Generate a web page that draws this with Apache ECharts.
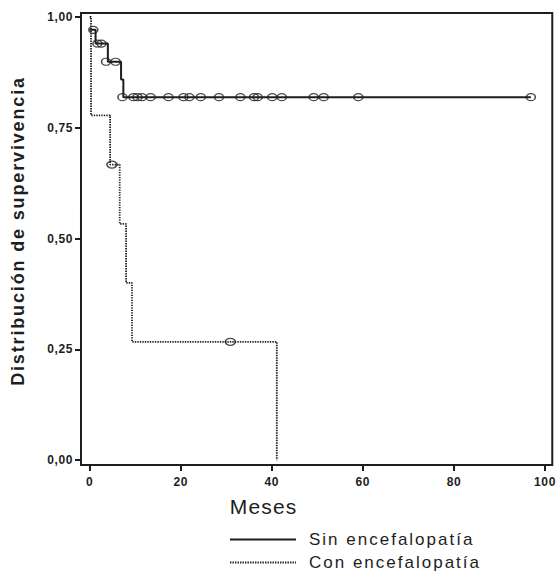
<!DOCTYPE html>
<html>
<head>
<meta charset="utf-8">
<title>Distribución de supervivencia</title>
<script src="https://cdn.jsdelivr.net/npm/echarts@6/dist/echarts.min.js"></script>
<style>
  html, body { margin: 0; padding: 0; background: #fff; }
  #chart { width: 558px; height: 571px; }
  /* tracking for the wide-set lettering (SVG renderer text nodes) */
  #chart svg text[style*="18px"] { letter-spacing: 1.85px; }
  #chart svg text[style*="17px"] { letter-spacing: 2px; }
  #chart svg text[style*="21px"] { letter-spacing: 1.2px; }
  #chart svg text[style*="12px"] { letter-spacing: 0.6px; }
</style>
</head>
<body>
<div id="chart"></div>
<script>
// Axis ticks
const monthTicks = [0, 20, 40, 60, 80, 100];
const survivalTicks = [0, 0.25, 0.5, 0.75, 1];

// Kaplan-Meier steps: event times (months) and survival after each step
const sinTimes = [0, 1.3, 4.0, 6.9, 7.4, 96.9];
const sinSurvival = [0.971, 0.940, 0.899, 0.859, 0.819, 0.819];
const conTimes = [0, 0.3, 4.5, 6.6, 8.0, 9.3, 41.1];
const conSurvival = [1, 0.778, 0.667, 0.533, 0.400, 0.267, 0];

// Censored cases (time, survival level at that time)
const sinCensoredTimes = [0.8, 1.7, 2.6, 3.6, 5.7, 7.2, 9.6, 10.5, 11.5, 13.4, 17.3, 20.6,
  21.9, 24.4, 28.4, 33.1, 36.1, 36.9, 40.1, 42.2, 49.2, 51.4, 59.0, 96.9];
const sinCensoredSurvival = [0.971, 0.940, 0.940, 0.899, 0.899, 0.819, 0.819, 0.819, 0.819,
  0.819, 0.819, 0.819, 0.819, 0.819, 0.819, 0.819, 0.819, 0.819, 0.819, 0.819, 0.819,
  0.819, 0.819, 0.819];
const conCensoredTimes = [4.9, 30.9];
const conCensoredSurvival = [0.667, 0.267];

const groupNames = ['Sin encefalopatía', 'Con encefalopatía'];

const zip = (xs, ys) => xs.map((x, i) => [x, ys[i]]);
const ink = '#1e1e1e';
const font = 'Liberation Sans, Arial, sans-serif';
const censorMark = 'path://M0,3A4,3,0,1,1,8,3A4,3,0,1,1,0,3Z';

const chart = echarts.init(document.getElementById('chart'), null, { renderer: 'svg' });

chart.setOption({
  animation: false,
  backgroundColor: '#fff',
  grid: {
    left: 81, right: 4, top: 13, bottom: 106,
    show: true, borderColor: ink, borderWidth: 2, backgroundColor: 'transparent'
  },
  xAxis: {
    type: 'value',
    min: -1.9, max: 101.6,
    name: 'Meses',
    nameLocation: 'middle',
    nameGap: 31,
    nameTextStyle: { fontFamily: font, fontSize: 21, color: ink, padding: [0, 106, 0, 0] },
    axisLine: { show: false, onZero: false },
    axisTick: { show: true, length: 6, customValues: monthTicks, lineStyle: { color: ink, width: 2 } },
    axisLabel: {
      customValues: monthTicks, margin: 11,
      fontFamily: font, fontSize: 12, fontWeight: 'bold', color: ink
    },
    splitLine: { show: false }
  },
  yAxis: {
    type: 'value',
    min: -0.011, max: 1.009,
    name: 'Distribución de supervivencia',
    nameLocation: 'middle',
    nameGap: 54,
    nameTextStyle: { fontFamily: font, fontSize: 18, fontWeight: 'bold', color: ink, padding: [0, 0, 0, 16] },
    axisLine: { show: false, onZero: false },
    axisTick: { show: true, length: 6, customValues: survivalTicks, lineStyle: { color: ink, width: 2 } },
    axisLabel: {
      customValues: survivalTicks, margin: 8,
      fontFamily: font, fontSize: 12, fontWeight: 'bold', color: ink,
      formatter: v => v.toFixed(2).replace('.', ',')
    },
    splitLine: { show: false }
  },
  legend: {
    data: groupNames,
    orient: 'vertical',
    left: 229,
    top: 531,
    itemWidth: 66,
    itemHeight: 14,
    itemGap: 6,
    padding: 0,
    selectedMode: false,
    itemStyle: { color: 'rgba(0,0,0,0)', borderWidth: 0 },
    textStyle: { fontFamily: font, fontSize: 17, color: ink, padding: [0, 0, 0, 8] }
  },
  series: [
    {
      name: groupNames[0],
      type: 'line',
      step: 'end',
      symbol: 'none',
      silent: true,
      data: zip(sinTimes, sinSurvival),
      lineStyle: { color: ink, width: 2, type: 'solid' },
      itemStyle: { color: ink }
    },
    {
      name: groupNames[1],
      type: 'line',
      step: 'end',
      symbol: 'none',
      silent: true,
      data: zip(conTimes, conSurvival),
      lineStyle: { color: '#222', width: 1.8, type: [1.4, 1.1] },
      itemStyle: { color: '#222' }
    },
    {
      name: 'censor-sin',
      type: 'scatter',
      silent: true,
      symbol: censorMark,
      symbolSize: [9, 7],
      data: zip(sinCensoredTimes, sinCensoredSurvival),
      itemStyle: { color: 'rgba(0,0,0,0)', borderColor: ink, borderWidth: 1.4 },
      z: 3
    },
    {
      name: 'censor-con',
      type: 'scatter',
      silent: true,
      symbol: censorMark,
      symbolSize: [10, 7],
      data: zip(conCensoredTimes, conCensoredSurvival),
      itemStyle: { color: 'rgba(0,0,0,0)', borderColor: ink, borderWidth: 1.4 },
      z: 3
    }
  ]
});
</script>
</body>
</html>
